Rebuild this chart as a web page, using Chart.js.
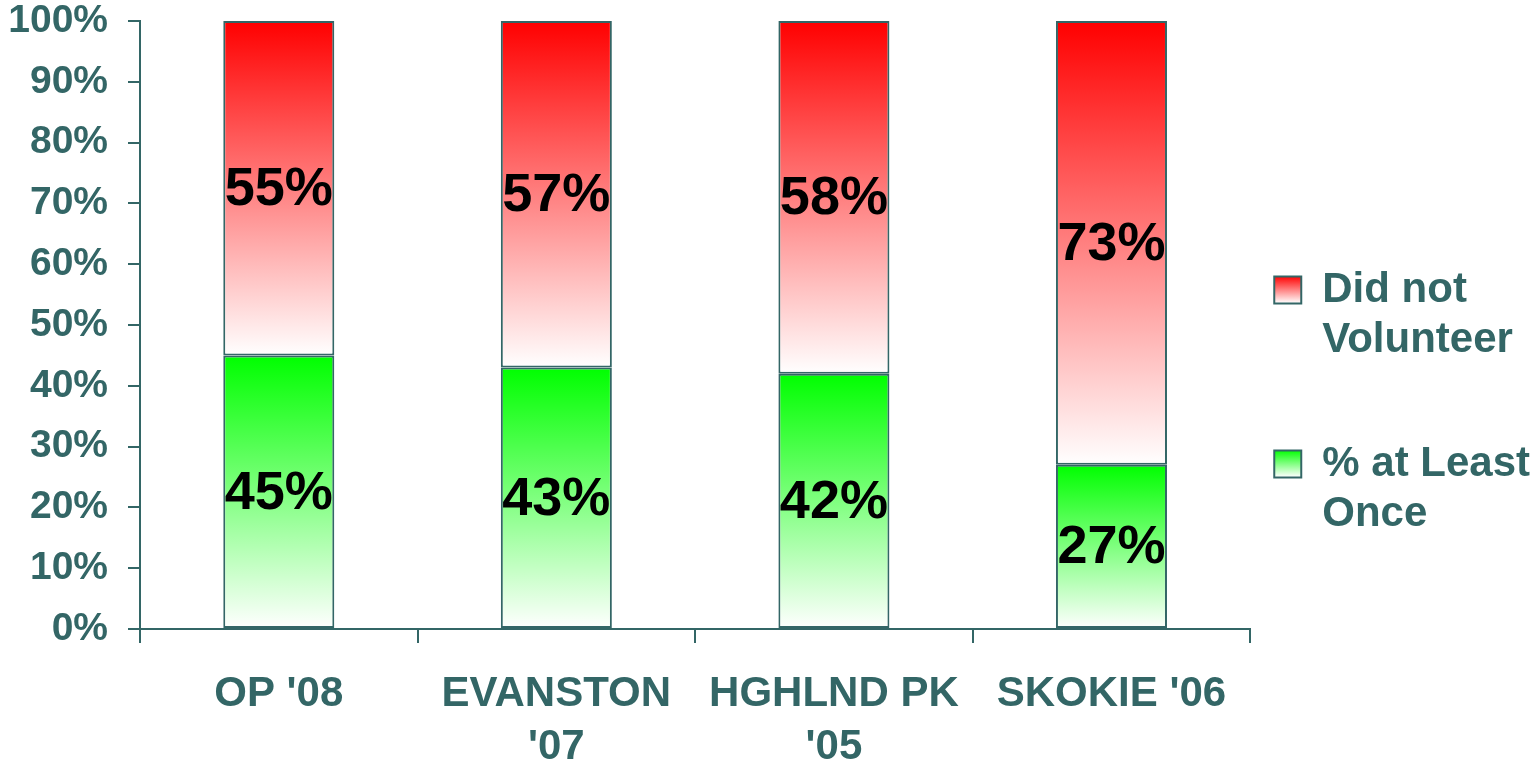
<!DOCTYPE html>
<html>
<head>
<meta charset="utf-8">
<title>Voluntariado</title>
<script src="https://cdn.jsdelivr.net/npm/chart.js@4.4.1/dist/chart.umd.min.js"></script>
<style>
  html, body { margin: 0; padding: 0; background: #ffffff; }
  #caixa { width: 1540px; height: 767px; }
</style>
</head>
<body>
<div id="caixa"><canvas id="meuGrafico"></canvas></div>
<script>
// Dados (%)
const categorias = ["OP '08", ["EVANSTON", "'07"], ["HGHLND PK", "'05"], "SKOKIE '06"];
const peloMenosUmaVez = [45, 43, 42, 27];
const naoVoluntariou = [55, 57, 58, 73];
const rotulosY = ['0%', '10%', '20%', '30%', '40%', '50%', '60%', '70%', '80%', '90%', '100%'];

const TEAL = '#336666';
const VERDE = '#00ff00';
const VERMELHO = '#ff0000';
const FONTE = "'Liberation Sans', Arial, sans-serif";

/**
 * Degradê vertical: cor no topo do segmento, branco na base.
 */
function degrade(ctx, yTopo, yBase, cor) {
    const g = ctx.createLinearGradient(0, yTopo, 0, yBase);
    g.addColorStop(0, cor);
    g.addColorStop(1, '#ffffff');
    return g;
}

// preenchimento de cada segmento calculado pela escala y
function corSegmento(cor, inicio, fim) {
    return c => {
        const y = c.chart.scales.y;
        if (!y || c.dataIndex === undefined) return cor;
        const i = c.dataIndex;
        return degrade(c.chart.ctx, y.getPixelForValue(fim(i)), y.getPixelForValue(inicio(i)), cor);
    };
}

// Valores escritos no meio de cada barra
const rotulosBarras = {
    id: 'rotulosBarras',
    afterDatasetsDraw(chart) {
        const ctx = chart.ctx;
        ctx.save();
        ctx.font = 'bold 54px ' + FONTE;
        ctx.fillStyle = '#000000';
        ctx.textAlign = 'center';
        ctx.textBaseline = 'middle';
        chart.data.datasets.forEach((ds, d) => {
            chart.getDatasetMeta(d).data.forEach((barra, i) => {
                const p = barra.getProps(['x', 'y', 'base'], true);
                ctx.fillText(ds.data[i] + '%', p.x, (p.y + p.base) / 2 + 2);
            });
        });
        ctx.restore();
    }
};

// Caixinhas da legenda com o mesmo degradê das barras
const legendaDegrade = {
    id: 'legendaDegrade',
    beforeDraw(chart) {
        const leg = chart.legend;
        if (!leg || !leg.legendItems) return;
        leg.legendItems.forEach((item, k) => {
            const hb = leg.legendHitBoxes[k];
            if (!hb) return;
            const ds = chart.data.datasets[item.datasetIndex];
            const topo = hb.top + 7;
            item.fillStyle = degrade(chart.ctx, topo, topo + 27, ds.corTopo);
        });
    }
};

const ctx = document.getElementById('meuGrafico');

new Chart(ctx.getContext('2d'), {
    type: 'bar',
    data: {
        labels: categorias,
        datasets: [{
            label: '% at Least Once',
            legenda: ['% at Least', 'Once'],
            corTopo: VERDE,
            data: peloMenosUmaVez,
            backgroundColor: corSegmento(VERDE, () => 0, i => peloMenosUmaVez[i]),
            borderColor: TEAL,
            borderWidth: 2,
            borderSkipped: false
        }, {
            label: 'Did not Volunteer',
            legenda: ['Did not', 'Volunteer', ''],
            corTopo: VERMELHO,
            data: naoVoluntariou,
            backgroundColor: corSegmento(VERMELHO, i => peloMenosUmaVez[i], i => peloMenosUmaVez[i] + naoVoluntariou[i]),
            borderColor: TEAL,
            borderWidth: 2,
            borderSkipped: false
        }]
    },
    options: {
        responsive: true,
        maintainAspectRatio: false,
        animation: false,
        layout: { padding: { left: 10, right: 0, top: 21, bottom: -24 } },
        datasets: {
            bar: { barPercentage: 0.4, categoryPercentage: 1.0 }
        },
        plugins: {
            tooltip: { enabled: false },
            legend: {
                position: 'right',
                reverse: true,
                labels: {
                    boxWidth: 27,
                    boxHeight: 27,
                    padding: 24,
                    color: TEAL,
                    font: { family: FONTE, size: 42, weight: 'bold', lineHeight: 1.19 },
                    generateLabels: chart => chart.data.datasets.map((ds, i) => ({
                        text: ds.legenda,
                        fillStyle: ds.corTopo,
                        strokeStyle: TEAL,
                        lineWidth: 2,
                        fontColor: TEAL,
                        hidden: false,
                        datasetIndex: i
                    }))
                }
            }
        },
        scales: {
            x: {
                stacked: true,
                grid: { drawOnChartArea: false, color: TEAL, lineWidth: 2, tickLength: 14, offset: true },
                border: { color: TEAL, width: 2 },
                ticks: {
                    color: TEAL,
                    padding: 25,
                    maxRotation: 0,
                    font: { family: FONTE, size: 42, weight: 'bold', lineHeight: 1.26 }
                },
                afterFit: eixo => { eixo.height = 162; }
            },
            y: {
                stacked: true,
                min: 0,
                max: 100,
                grid: { drawOnChartArea: false, color: TEAL, lineWidth: 2, tickLength: 12 },
                border: { color: TEAL, width: 2 },
                ticks: {
                    stepSize: 10,
                    color: TEAL,
                    padding: 20,
                    font: { family: FONTE, size: 39, weight: 'bold' },
                    callback: (v, i) => rotulosY[i]
                },
                afterFit: eixo => {
                    eixo.width = 130;
                    eixo.paddingTop = 0;
                    eixo.paddingBottom = 0;
                }
            }
        }
    },
    plugins: [rotulosBarras, legendaDegrade]
});
</script>
</body>
</html>
